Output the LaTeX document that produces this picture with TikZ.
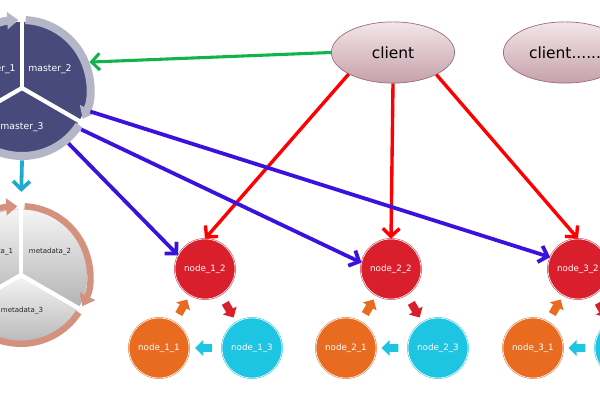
\documentclass[tikz,border=0pt]{standalone}
\usepackage{fontspec}
\setmainfont{DejaVu Sans}
\usepackage{tikz}
\usetikzlibrary{shapes.geometric,shapes.arrows,arrows.meta,calc}

\definecolor{mnavy}{HTML}{474A7A}
\definecolor{mring}{HTML}{B5B5C8}
\definecolor{dring}{HTML}{D3917E}
\definecolor{nred}{HTML}{DA1F2C}
\definecolor{norange}{HTML}{E96B1F}
\definecolor{ncyan}{HTML}{1EC5E3}
\definecolor{lblue}{HTML}{3A12DD}
\definecolor{lgreen}{HTML}{14B24A}
\definecolor{lcyan}{HTML}{22AACC}
\definecolor{ctop}{HTML}{F3E6EA}
\definecolor{cbot}{HTML}{C6A1AA}
\definecolor{cline}{HTML}{9C6E78}

\begin{document}
\begin{tikzpicture}[x=0.025cm,y=0.025cm,
    server/.style={circle, minimum size=1.5cm, inner sep=0pt, line width=0.35pt,
      double=white, double distance=0.45pt, text=white,
      font=\fontsize{6.2}{7.5}\selectfont},
    flow/.style={single arrow, minimum height=0.42cm, minimum width=0.4cm,
      single arrow head extend=0.1cm, inner sep=0.09cm},
    clientbox/.style={ellipse, draw=cline, line width=0.5pt, top color=ctop,
      bottom color=cbot, minimum width=3.08cm, minimum height=1.53cm, inner sep=0pt,
      font=\fontsize{11}{13}\selectfont},
    ringarrow/.style={line width=0.2cm, -{Triangle[length=0.28cm,width=0.42cm]}},
    link/.style={line width=2.7pt, -{Straight Barb[length=0.2cm,width=0.42cm]}}]
    \useasboundingbox (0,0) rectangle (600,400);
    \clip (0,0) rectangle (600,400);

    % Master (ciclo azul oscuro)
    \coordinate (M) at (22,312);
    \node[circle, minimum size=3.6cm, inner sep=0pt] (master) at (M) {};
    \fill[mnavy] (M) -- ([shift={(90:1.65cm)}]M) arc[start angle=90, end angle=210, radius=1.65cm] -- cycle;
    \fill[mnavy] (M) -- ([shift={(-30:1.65cm)}]M) arc[start angle=-30, end angle=90, radius=1.65cm] -- cycle;
    \fill[mnavy] (M) -- ([shift={(210:1.65cm)}]M) arc[start angle=210, end angle=330, radius=1.65cm] -- cycle;
    \draw[ringarrow, mring] ([shift={(207:1.7cm)}]M) arc[start angle=207, end angle=93, radius=1.7cm];
    \draw[ringarrow, mring] ([shift={(87:1.7cm)}]M) arc[start angle=87, end angle=-27, radius=1.7cm];
    \draw[ringarrow, mring] ([shift={(-33:1.7cm)}]M) arc[start angle=-33, end angle=-147, radius=1.7cm];
    \draw[white, line width=3pt] (M) -- ++(90:1.9cm);
    \draw[white, line width=3pt] (M) -- ++(-30:1.9cm);
    \draw[white, line width=3pt] (M) -- ++(210:1.9cm);
    \node[text=white, font=\fontsize{6.6}{8}\selectfont] (m1) at (-6,331) {master\_1};
    \node[text=white, font=\fontsize{6.6}{8}\selectfont] (m2) at (50,331) {master\_2};
    \node[text=white, font=\fontsize{6.6}{8}\selectfont] (m3) at (22,273) {master\_3};

    % Metadata (ciclo gris)
    \coordinate (D) at (21,125);
    \node[circle, minimum size=3.6cm, inner sep=0pt] (metadata) at (D) {};
    \shadedraw[draw=gray!60, line width=0.3pt, top color=gray!8, bottom color=gray!60]
      (D) -- ([shift={(90:1.65cm)}]D) arc[start angle=90, end angle=210, radius=1.65cm] -- cycle;
    \shadedraw[draw=gray!60, line width=0.3pt, top color=gray!8, bottom color=gray!60]
      (D) -- ([shift={(-30:1.65cm)}]D) arc[start angle=-30, end angle=90, radius=1.65cm] -- cycle;
    \shadedraw[draw=gray!60, line width=0.3pt, top color=gray!8, bottom color=gray!60]
      (D) -- ([shift={(210:1.65cm)}]D) arc[start angle=210, end angle=330, radius=1.65cm] -- cycle;
    \draw[ringarrow, dring, line width=0.16cm] ([shift={(207:1.72cm)}]D) arc[start angle=207, end angle=93, radius=1.72cm];
    \draw[ringarrow, dring, line width=0.16cm] ([shift={(87:1.72cm)}]D) arc[start angle=87, end angle=-27, radius=1.72cm];
    \draw[ringarrow, dring, line width=0.16cm] ([shift={(-33:1.72cm)}]D) arc[start angle=-33, end angle=-147, radius=1.72cm];
    \draw[white, line width=3pt] (D) -- ++(90:1.9cm);
    \draw[white, line width=3pt] (D) -- ++(-30:1.9cm);
    \draw[white, line width=3pt] (D) -- ++(210:1.9cm);
    \node[text=black!85, font=\fontsize{5}{6}\selectfont] (d1) at (-8,148) {metadata\_1};
    \node[text=black!85, font=\fontsize{5}{6}\selectfont] (d2) at (50,148) {metadata\_2};
    \node[text=black!85, font=\fontsize{5}{6}\selectfont] (d3) at (22,89) {metadata\_3};

    % Clientes
    \node[clientbox] (client) at (393,347.5) {client};
    \node[clientbox] (clientb) at (565,347.5) {client......};

    % Grupos de nodos
    \node[server, fill=nred, draw=nred]       (node12) at (205,131) {node\_1\_2};
    \node[server, fill=norange, draw=norange] (node11) at (159,52)  {node\_1\_1};
    \node[server, fill=ncyan, draw=ncyan]     (node13) at (252,52)  {node\_1\_3};
    \node[server, fill=nred, draw=nred]       (node22) at (391,131) {node\_2\_2};
    \node[server, fill=norange, draw=norange] (node21) at (346,52)  {node\_2\_1};
    \node[server, fill=ncyan, draw=ncyan]     (node23) at (438,52)  {node\_2\_3};
    \node[server, fill=nred, draw=nred]       (node32) at (578,131) {node\_3\_2};
    \node[server, fill=norange, draw=norange] (node31) at (533,52)  {node\_3\_1};
    \node[server, fill=ncyan, draw=ncyan]     (node33) at (625,52)  {node\_3\_3};

    % Flechas de bloque dentro de cada grupo
    \node[flow, fill=norange, rotate=60]  (f11) at ($(node11)!0.5!(node12)$) {};
    \node[flow, fill=nred, rotate=-60]    (f12) at ($(node12)!0.5!(node13)$) {};
    \node[flow, fill=ncyan, rotate=180]   (f13) at ($(node13)!0.5!(node11)$) {};
    \node[flow, fill=norange, rotate=60]  (f21) at ($(node21)!0.5!(node22)$) {};
    \node[flow, fill=nred, rotate=-60]    (f22) at ($(node22)!0.5!(node23)$) {};
    \node[flow, fill=ncyan, rotate=180]   (f23) at ($(node23)!0.5!(node21)$) {};
    \node[flow, fill=norange, rotate=60]  (f31) at ($(node31)!0.5!(node32)$) {};
    \node[flow, fill=nred, rotate=-60]    (f32) at ($(node32)!0.5!(node33)$) {};
    \node[flow, fill=ncyan, rotate=180]   (f33) at ($(node33)!0.5!(node31)$) {};

    % Conexiones
    \draw[link, lgreen, line width=2.2pt] (client.west) -- (master.21);
    \draw[link, lcyan, shorten >=0.27cm] (master.south) -- (metadata.north);
    \draw[link, red, line width=2.4pt] (client.206) -- (node12.north);
    \draw[link, red, line width=2.4pt] (client.south) -- (node22.north);
    \draw[link, red, line width=2.4pt] (client.-27) -- (node32.north);
    \draw[link, lblue] (master.-19) -- (node32.157);
    \draw[link, lblue] (master.-35) -- (node22.168);
    \draw[link, lblue] (master.-50) -- (node12.153);
  \end{tikzpicture}
\end{document}
